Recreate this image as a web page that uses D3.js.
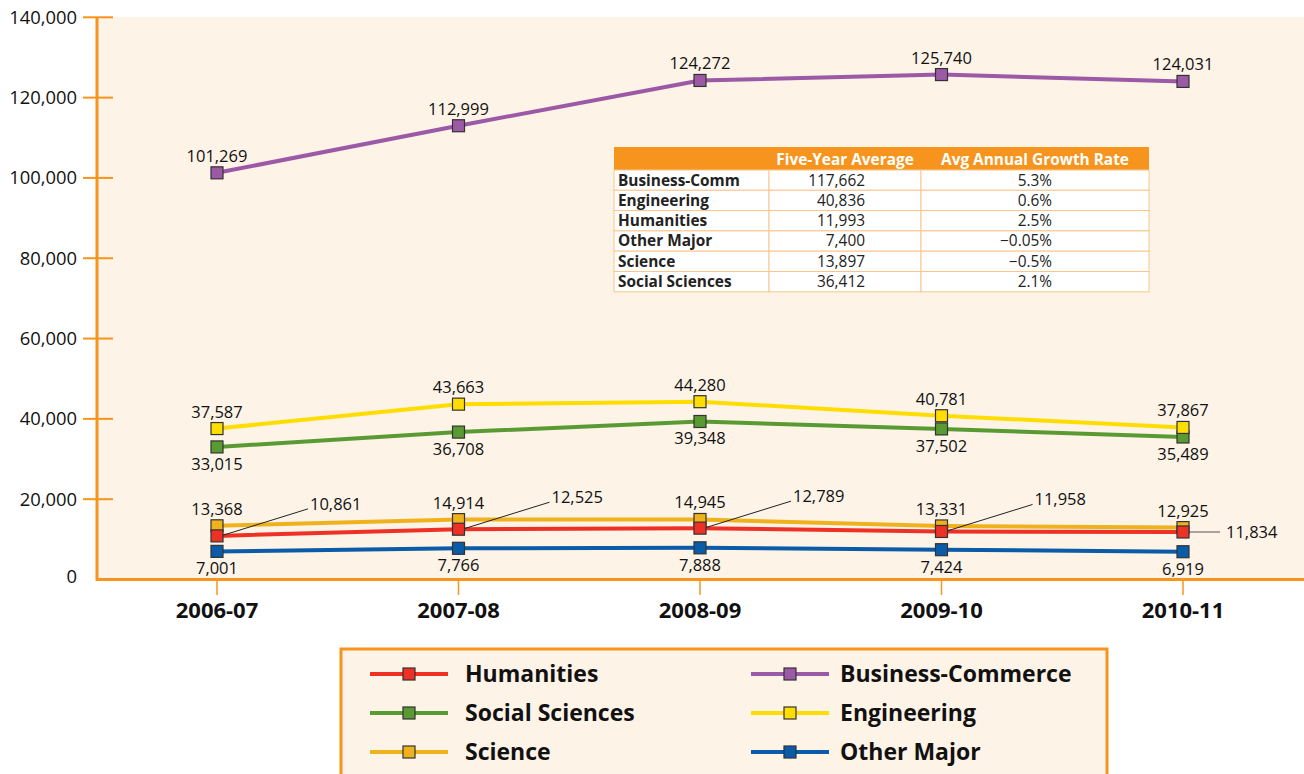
<!DOCTYPE html>
<html>
<head>
<meta charset="utf-8">
<script src="https://cdn.jsdelivr.net/npm/d3@7"></script>
<style>
  body { margin: 0; background: #fff; }
  svg { display: block; font-family: "Open Sans", sans-serif; }
</style>
</head>
<body>
<svg id="chart" width="1304" height="774"></svg>
<script>
// data
var years = ['2006-07', '2007-08', '2008-09', '2009-10', '2010-11'];
var humanities = [10861, 12525, 12789, 11958, 11834];
var business = [101269, 112999, 124272, 125740, 124031];
var socialSci = [33015, 36708, 39348, 37502, 35489];
var engineering = [37587, 43663, 44280, 40781, 37867];
var science = [13368, 14914, 14945, 13331, 12925];
var otherMajor = [7001, 7766, 7888, 7424, 6919];
var yTicks = [0, 20000, 40000, 60000, 80000, 100000, 120000, 140000];

var tableHeader = ['', 'Five-Year Average', 'Avg Annual Growth Rate'];
var tableNames = ['Business-Comm', 'Engineering', 'Humanities', 'Other Major', 'Science', 'Social Sciences'];
var tableAvg = ['117,662', '40,836', '11,993', '7,400', '13,897', '36,412'];
var tableGrowth = ['5.3%', '0.6%', '2.5%', '\u22120.05%', '\u22120.5%', '2.1%'];

var orange = '#f7941d';
var fmt = d3.format(',');

// draw order matters a bit for overlapping markers
var series = [
  {name: 'Business-Commerce', values: business, color: '#9b59a6', label: 'above'},
  {name: 'Science', values: science, color: '#f0b21c', label: 'above'},
  {name: 'Humanities', values: humanities, color: '#ee3124', label: 'leader'},
  {name: 'Social Sciences', values: socialSci, color: '#5a9a33', label: 'below'},
  {name: 'Engineering', values: engineering, color: '#ffdd00', label: 'above'},
  {name: 'Other Major', values: otherMajor, color: '#0a5ba8', label: 'below'}
];

var svg = d3.select('#chart');

var x = d3.scalePoint().domain(years).range([217, 1183]);
var y = d3.scaleLinear().domain([0, 140000]).range([579.5, 17.3]);

// plot background
svg.append('rect')
  .attr('x', 97).attr('y', y(140000))
  .attr('width', 1304 - 97).attr('height', y(0) - y(140000))
  .attr('fill', '#fdf3e7');

// y axis
var yAxis = svg.append('g');
yAxis.append('line')
  .attr('x1', 97).attr('x2', 97)
  .attr('y1', y(140000)).attr('y2', y(0) + 1.5)
  .attr('stroke', orange).attr('stroke-width', 3);
yAxis.selectAll('.tick').data(yTicks.filter(function(d) { return d > 0; }))
  .enter().append('line')
  .attr('x1', 83).attr('x2', 113)
  .attr('y1', function(d) { return y(d); }).attr('y2', function(d) { return y(d); })
  .attr('stroke', orange).attr('stroke-width', 2);
yAxis.selectAll('text').data(yTicks)
  .enter().append('text')
  .attr('x', 77)
  .attr('y', function(d) { return d === 0 ? y(d) + 3 : y(d) + 6.5; })
  .attr('text-anchor', 'end')
  .attr('font-size', 18.4)
  .attr('fill', '#111')
  .text(function(d) { return fmt(d); });

// x axis
var xAxis = svg.append('g');
xAxis.append('line')
  .attr('x1', 96).attr('x2', 1304)
  .attr('y1', y(0)).attr('y2', y(0))
  .attr('stroke', orange).attr('stroke-width', 3);
xAxis.selectAll('.tick').data(years)
  .enter().append('line')
  .attr('x1', function(d) { return x(d); }).attr('x2', function(d) { return x(d); })
  .attr('y1', y(0) + 1.5).attr('y2', 595)
  .attr('stroke', orange).attr('stroke-width', 1.5);
xAxis.selectAll('text').data(years)
  .enter().append('text')
  .attr('x', function(d) { return x(d); })
  .attr('y', 618)
  .attr('text-anchor', 'middle')
  .attr('font-size', 22)
  .attr('font-weight', 'bold')
  .attr('fill', '#111')
  .text(function(d) { return d; });

var line = d3.line()
  .x(function(d, i) { return x(years[i]); })
  .y(function(d) { return y(d); });

var ms = 12;

// lines first
svg.selectAll('.series-line').data(series)
  .enter().append('path')
  .attr('class', 'series-line')
  .attr('d', function(s) { return line(s.values); })
  .attr('fill', 'none')
  .attr('stroke', function(s) { return s.color; })
  .attr('stroke-width', 4)
  .attr('stroke-linejoin', 'round');

// humanities leader lines (drawn under markers)
var hum = series[2];
var leaders = svg.append('g');
hum.values.forEach(function(v, i) {
  var px = x(years[i]), py = y(v);
  if (i < years.length - 1) {
    leaders.append('line')
      .attr('x1', px + 4).attr('y1', py)
      .attr('x2', px + 91).attr('y2', py - 27)
      .attr('stroke', '#222').attr('stroke-width', 1);
    leaders.append('text')
      .attr('x', px + 93).attr('y', py - 26)
      .attr('font-size', 16.5).attr('fill', '#111')
      .text(fmt(v));
  } else {
    leaders.append('line')
      .attr('x1', px).attr('y1', py)
      .attr('x2', px + 37).attr('y2', py)
      .attr('stroke', '#555').attr('stroke-width', 1.2);
    leaders.append('text')
      .attr('x', px + 43).attr('y', py + 6)
      .attr('font-size', 16.5).attr('fill', '#111')
      .text(fmt(v));
  }
});

// markers and labels
series.forEach(function(s) {
  var g = svg.append('g');
  g.selectAll('rect').data(s.values)
    .enter().append('rect')
    .attr('x', function(d, i) { return x(years[i]) - ms / 2; })
    .attr('y', function(d) { return y(d) - ms / 2; })
    .attr('width', ms).attr('height', ms)
    .attr('fill', s.color)
    .attr('stroke', '#333').attr('stroke-width', 1.2);
  if (s.label === 'leader') return;
  g.selectAll('text').data(s.values)
    .enter().append('text')
    .attr('x', function(d, i) { return x(years[i]); })
    .attr('y', function(d) { return s.label === 'above' ? y(d) - 11 : y(d) + 23; })
    .attr('text-anchor', 'middle')
    .attr('font-size', 16.5)
    .attr('fill', '#111')
    .text(function(d) { return fmt(d); });
});

// summary table
var tbl = svg.append('g').attr('font-size', 15.4);
var colX = [614, 769, 921, 1149];
var tTop = 147, headH = 23, rowH = 20.3;
tbl.append('rect')
  .attr('x', colX[0]).attr('y', tTop)
  .attr('width', colX[3] - colX[0]).attr('height', headH)
  .attr('fill', orange);
tbl.append('text').attr('x', 845).attr('y', tTop + 17.5)
  .attr('text-anchor', 'middle').attr('fill', '#fff').attr('font-weight', 'bold')
  .text(tableHeader[1]);
tbl.append('text').attr('x', 1035).attr('y', tTop + 17.5)
  .attr('text-anchor', 'middle').attr('fill', '#fff').attr('font-weight', 'bold')
  .text(tableHeader[2]);
var rows = tbl.selectAll('.row').data(tableNames)
  .enter().append('g')
  .attr('transform', function(d, i) { return 'translate(0,' + (tTop + headH + i * rowH) + ')'; });
rows.selectAll('rect').data([0, 1, 2])
  .enter().append('rect')
  .attr('x', function(c) { return colX[c]; })
  .attr('y', 0)
  .attr('width', function(c) { return colX[c + 1] - colX[c]; })
  .attr('height', rowH)
  .attr('fill', '#fff')
  .attr('stroke', '#f9c68c').attr('stroke-width', 1);
rows.append('text')
  .attr('x', 618).attr('y', 15.5)
  .attr('font-weight', 'bold').attr('fill', '#222')
  .text(function(d) { return d; });
rows.append('text')
  .attr('x', 865).attr('y', 15.5)
  .attr('text-anchor', 'end').attr('fill', '#222')
  .text(function(d, i) { return tableAvg[i]; });
rows.append('text')
  .attr('x', 1052).attr('y', 15.5)
  .attr('text-anchor', 'end').attr('fill', '#222')
  .text(function(d, i) { return tableGrowth[i]; });

// legend
var legendOrder = ['Humanities', 'Business-Commerce', 'Social Sciences', 'Engineering', 'Science', 'Other Major'];
var legend = svg.append('g');
legend.append('rect')
  .attr('x', 341).attr('y', 649)
  .attr('width', 766).attr('height', 140)
  .attr('fill', '#fdf3e7')
  .attr('stroke', orange).attr('stroke-width', 3);
var items = legend.selectAll('.item').data(legendOrder)
  .enter().append('g')
  .attr('transform', function(d, i) {
    return 'translate(' + (i % 2 === 0 ? 370 : 751) + ',' + (674 + Math.floor(i / 2) * 39) + ')';
  });
items.append('line')
  .attr('x1', 0).attr('x2', 78)
  .attr('stroke', function(d) { return series.find(function(s) { return s.name === d; }).color; })
  .attr('stroke-width', 4);
items.append('rect')
  .attr('x', 39 - ms / 2).attr('y', -ms / 2)
  .attr('width', ms).attr('height', ms)
  .attr('fill', function(d) { return series.find(function(s) { return s.name === d; }).color; })
  .attr('stroke', '#333').attr('stroke-width', 1.2);
items.append('text')
  .attr('x', function(d, i) { return i % 2 === 0 ? 95 : 89; })
  .attr('y', 8)
  .attr('font-size', 23)
  .attr('font-weight', 'bold')
  .attr('fill', '#111')
  .text(function(d) { return d; });
</script>
</body>
</html>
